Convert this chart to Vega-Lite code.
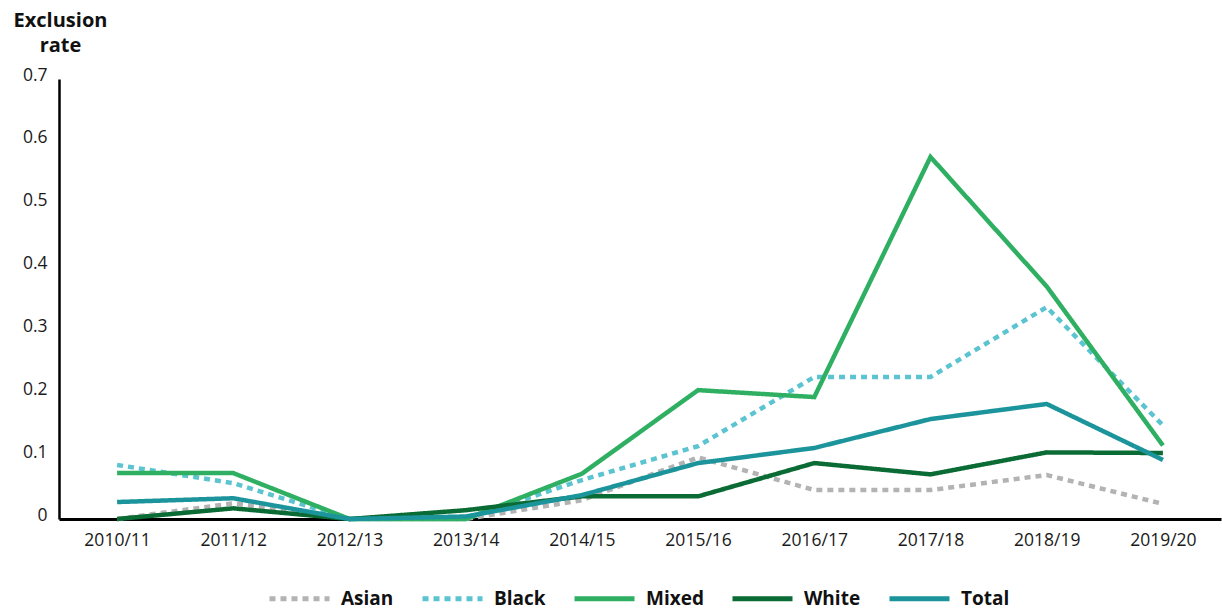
{
  "$schema": "https://vega.github.io/schema/vega-lite/v6.json",
  "width": 1162,
  "height": 440,
  "autosize": {"type": "none"},
  "padding": {"left": 59, "top": 79, "right": 1, "bottom": 93},
  "background": "white",
  "config": {
    "view": {"stroke": null},
    "font": "Open Sans",
    "axis": {"grid": false, "ticks": false, "domainColor": "#000000", "labelColor": "#1a1a1a", "labelFont": "Open Sans", "labelFontSize": 17.5}
  },
  "data": {
    "values": [
      {"year": "2010/11", "group": "Asian", "rate": 0},
      {"year": "2011/12", "group": "Asian", "rate": 0.025},
      {"year": "2012/13", "group": "Asian", "rate": 0},
      {"year": "2013/14", "group": "Asian", "rate": 0},
      {"year": "2014/15", "group": "Asian", "rate": 0.03},
      {"year": "2015/16", "group": "Asian", "rate": 0.098},
      {"year": "2016/17", "group": "Asian", "rate": 0.046},
      {"year": "2017/18", "group": "Asian", "rate": 0.046},
      {"year": "2018/19", "group": "Asian", "rate": 0.07},
      {"year": "2019/20", "group": "Asian", "rate": 0.024},
      {"year": "2010/11", "group": "Black", "rate": 0.086},
      {"year": "2011/12", "group": "Black", "rate": 0.057},
      {"year": "2012/13", "group": "Black", "rate": 0},
      {"year": "2013/14", "group": "Black", "rate": 0},
      {"year": "2014/15", "group": "Black", "rate": 0.062},
      {"year": "2015/16", "group": "Black", "rate": 0.116},
      {"year": "2016/17", "group": "Black", "rate": 0.226},
      {"year": "2017/18", "group": "Black", "rate": 0.226},
      {"year": "2018/19", "group": "Black", "rate": 0.337},
      {"year": "2019/20", "group": "Black", "rate": 0.149},
      {"year": "2010/11", "group": "Mixed", "rate": 0.073},
      {"year": "2011/12", "group": "Mixed", "rate": 0.073},
      {"year": "2012/13", "group": "Mixed", "rate": 0},
      {"year": "2013/14", "group": "Mixed", "rate": 0},
      {"year": "2014/15", "group": "Mixed", "rate": 0.072},
      {"year": "2015/16", "group": "Mixed", "rate": 0.205},
      {"year": "2016/17", "group": "Mixed", "rate": 0.194},
      {"year": "2017/18", "group": "Mixed", "rate": 0.576},
      {"year": "2018/19", "group": "Mixed", "rate": 0.37},
      {"year": "2019/20", "group": "Mixed", "rate": 0.117},
      {"year": "2010/11", "group": "White", "rate": 0},
      {"year": "2011/12", "group": "White", "rate": 0.017},
      {"year": "2012/13", "group": "White", "rate": 0},
      {"year": "2013/14", "group": "White", "rate": 0.014},
      {"year": "2014/15", "group": "White", "rate": 0.036},
      {"year": "2015/16", "group": "White", "rate": 0.036},
      {"year": "2016/17", "group": "White", "rate": 0.089},
      {"year": "2017/18", "group": "White", "rate": 0.071},
      {"year": "2018/19", "group": "White", "rate": 0.106},
      {"year": "2019/20", "group": "White", "rate": 0.105},
      {"year": "2010/11", "group": "Total", "rate": 0.027},
      {"year": "2011/12", "group": "Total", "rate": 0.033},
      {"year": "2012/13", "group": "Total", "rate": 0},
      {"year": "2013/14", "group": "Total", "rate": 0.004},
      {"year": "2014/15", "group": "Total", "rate": 0.038},
      {"year": "2015/16", "group": "Total", "rate": 0.089},
      {"year": "2016/17", "group": "Total", "rate": 0.113},
      {"year": "2017/18", "group": "Total", "rate": 0.159},
      {"year": "2018/19", "group": "Total", "rate": 0.183},
      {"year": "2019/20", "group": "Total", "rate": 0.094}
    ]
  },
  "mark": {"type": "line", "strokeWidth": 4.5, "strokeCap": "butt", "strokeJoin": "miter"},
  "encoding": {
    "x": {
      "field": "year", "type": "ordinal",
      "scale": {"type": "point", "padding": 0.5},
      "axis": {"title": null, "labelAngle": 0, "domainWidth": 3, "labelPadding": 12}
    },
    "y": {
      "field": "rate", "type": "quantitative",
      "scale": {"domain": [0, 0.7], "nice": false},
      "axis": {
        "values": [0, 0.1, 0.2, 0.3, 0.4, 0.5, 0.6, 0.7],
        "format": ".1~f",
        "domainWidth": 2.5,
        "labelPadding": 12,
        "labelBaseline": "middle",
        "labelOffset": -4,
        "title": ["Exclusion", "rate"],
        "titleAngle": 0,
        "titleAlign": "center",
        "titleBaseline": "top",
        "titleX": 1,
        "titleY": -69,
        "titleFont": "Open Sans",
        "titleFontSize": 20,
        "titleFontWeight": "bold",
        "titleLineHeight": 25,
        "titleColor": "#111111"
      }
    },
    "color": {
      "field": "group", "type": "nominal",
      "scale": {"domain": ["Asian", "Black", "Mixed", "White", "Total"], "range": ["#b3b3b3", "#5bc4d0", "#2eaf62", "#0a6b34", "#1b949c"]},
      "legend": {
        "title": null,
        "orient": "none",
        "direction": "horizontal",
        "legendX": 208,
        "legendY": 487,
        "symbolType": "stroke",
        "symbolSize": 3600,
        "symbolStrokeWidth": 5,
        "labelFont": "Open Sans",
        "labelFontSize": 19,
        "labelFontWeight": "bold",
        "labelColor": "#111111",
        "labelOffset": 9,
        "columnPadding": 18
      }
    },
    "strokeDash": {
      "field": "group", "type": "nominal",
      "scale": {"domain": ["Asian", "Black", "Mixed", "White", "Total"], "range": [[6, 5], [6, 5], [1, 0], [1, 0], [1, 0]]},
      "legend": null
    }
  }
}
